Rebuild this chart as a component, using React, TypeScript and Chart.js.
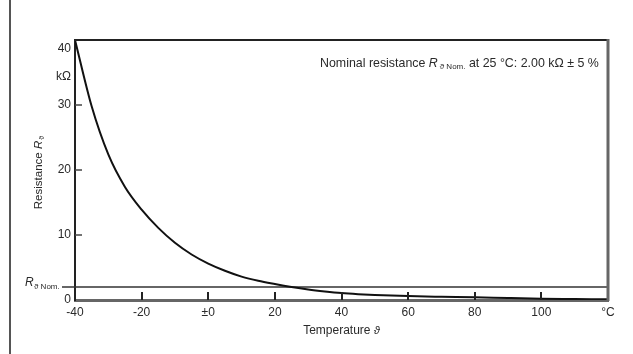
import React, { useEffect, useRef } from "react";
import { Chart, registerables } from "chart.js";

Chart.register(...registerables);

const temperatures = [-40, -35, -30, -25, -20, -15, -10, -5, 0, 5, 10, 15, 20, 25, 30, 35, 40, 45, 50, 60, 70, 80, 90, 100, 110, 120];
const resistance = [40.0, 29.8, 22.4, 17.4, 13.9, 11.1, 8.8, 7.0, 5.6, 4.5, 3.6, 2.95, 2.45, 2.0, 1.62, 1.32, 1.07, 0.9, 0.77, 0.6, 0.5, 0.42, 0.3, 0.2, 0.15, 0.1];
const nominalT = [-40, 120];
const nominalR = [2.0, 2.0];
const xTicks = [-40, -20, 0, 20, 40, 60, 80, 100, 120];
const xTickLabels = ["-40", "-20", "±0", "20", "40", "60", "80", "100", "°C"];
const yTicks = [0, 10, 20, 30, 40];

const FONT = "'Liberation Sans', Arial, sans-serif";
const TEXT = "#2a2a2a";

const decorPlugin = {
  id: "decor",
  afterDraw(chart: any) {
    const ctx = chart.ctx;
    const a = chart.chartArea;
    const xs = chart.scales.x;
    const ys = chart.scales.y;
    ctx.save();
    // page border line on left
    ctx.strokeStyle = "#555";
    ctx.lineWidth = 2;
    ctx.beginPath();
    ctx.moveTo(10, 0);
    ctx.lineTo(10, chart.height);
    ctx.stroke();
    // top border
    ctx.strokeStyle = "#222";
    ctx.lineWidth = 2;
    ctx.beginPath();
    ctx.moveTo(a.left - 1, a.top);
    ctx.lineTo(a.right + 1, a.top);
    ctx.stroke();
    // right border
    ctx.strokeStyle = "#666";
    ctx.lineWidth = 3;
    ctx.beginPath();
    ctx.moveTo(a.right, a.top - 1);
    ctx.lineTo(a.right, a.bottom + 1);
    ctx.stroke();
    // x ticks (inward)
    ctx.strokeStyle = "#222";
    ctx.lineWidth = 2;
    xTicks.slice(1, -1).forEach((v) => {
      const px = Math.round(xs.getPixelForValue(v));
      ctx.beginPath();
      ctx.moveTo(px, a.bottom);
      ctx.lineTo(px, a.bottom - 8);
      ctx.stroke();
    });
    // y ticks (inward)
    ctx.strokeStyle = "#444";
    ctx.lineWidth = 1.5;
    [10, 20, 30].forEach((v) => {
      const py = Math.round(ys.getPixelForValue(v));
      ctx.beginPath();
      ctx.moveTo(a.left, py);
      ctx.lineTo(a.left + 7, py);
      ctx.stroke();
    });
    // R nom dash left of axis
    const pyN = ys.getPixelForValue(2);
    ctx.strokeStyle = "#333";
    ctx.lineWidth = 1.5;
    ctx.beginPath();
    ctx.moveTo(62, pyN);
    ctx.lineTo(a.left, pyN);
    ctx.stroke();

    ctx.fillStyle = TEXT;
    ctx.textBaseline = "alphabetic";
    // R nom label
    ctx.textAlign = "left";
    ctx.font = `italic 12px ${FONT}`;
    ctx.fillText("R", 25, pyN - 1);
    ctx.font = `8px ${FONT}`;
    ctx.fillText("ϑ Nom.", 34, pyN + 2);
    // 40 label (drawn slightly below the top like the original)
    ctx.textAlign = "right";
    ctx.font = `12px ${FONT}`;
    ctx.fillText(String(yTicks[yTicks.length - 1]), 71, ys.getPixelForValue(40) + 12);
    // kΩ
    ctx.fillText("kΩ", 71, 80);
    // annotation
    ctx.textAlign = "left";
    let x = 320;
    const y = 67;
    const part = (t: string, f: string, dy = 0) => {
      ctx.font = f;
      ctx.fillText(t, x, y + dy);
      x += ctx.measureText(t).width;
    };
    part("Nominal resistance ", `12.4px ${FONT}`);
    part("R", `italic 12.4px ${FONT}`);
    x += 2;
    part("ϑ Nom.", `8px ${FONT}`, 2);
    part(" at 25 °C: 2.00 kΩ ± 5 %", `12.4px ${FONT}`);
    // y axis title
    ctx.save();
    ctx.translate(42, 172);
    ctx.rotate(-Math.PI / 2);
    ctx.textAlign = "left";
    const t1 = "Resistance ";
    ctx.font = `11.5px ${FONT}`;
    const w1 = ctx.measureText(t1).width;
    ctx.font = `italic 11.5px ${FONT}`;
    const w2 = ctx.measureText("R").width;
    const total = w1 + w2 + 6;
    let xx = -total / 2;
    ctx.font = `11.5px ${FONT}`;
    ctx.fillText(t1, xx, 0);
    xx += w1;
    ctx.font = `italic 11.5px ${FONT}`;
    ctx.fillText("R", xx, 0);
    xx += w2 + 1;
    ctx.font = `7px ${FONT}`;
    ctx.fillText("ϑ", xx, 2);
    ctx.restore();
    // x axis title
    ctx.textAlign = "left";
    ctx.font = `12px ${FONT}`;
    const tt = "Temperature ";
    const tw = ctx.measureText(tt).width;
    ctx.font = `italic 11px ${FONT}`;
    const tw2 = ctx.measureText("ϑ").width;
    const sx = (a.left + a.right) / 2 - (tw + tw2) / 2;
    ctx.font = `12px ${FONT}`;
    ctx.fillText(tt, sx, 334);
    ctx.font = `italic 11px ${FONT}`;
    ctx.fillText("ϑ", sx + tw, 334);
    ctx.restore();
  },
};

export default function App() {
  const ref = useRef<HTMLCanvasElement>(null);
  useEffect(() => {
    if (!ref.current) return;
    const chart = new Chart(ref.current, {
      type: "line",
      data: {
        datasets: [
          {
            data: temperatures.map((t, i) => ({ x: t, y: resistance[i] })),
            borderColor: "#111",
            borderWidth: 2,
            pointRadius: 0,
            cubicInterpolationMode: "monotone",
            fill: false,
          },
          {
            data: nominalT.map((t, i) => ({ x: t, y: nominalR[i] })),
            borderColor: "#333",
            borderWidth: 1.5,
            pointRadius: 0,
            fill: false,
          },
        ],
      },
      options: {
        responsive: false,
        animation: false,
        events: [],
        layout: { padding: { left: 0, top: 40, right: 25, bottom: 0 } },
        plugins: { legend: { display: false }, tooltip: { enabled: false } },
        scales: {
          x: {
            type: "linear",
            min: -40,
            max: 120,
            afterBuildTicks: (s: any) => {
              s.ticks = xTicks.map((v) => ({ value: v }));
            },
            afterFit: (s: any) => {
              s.height = 54;
            },
            grid: { display: true, drawOnChartArea: false, drawTicks: false },
            border: { display: true, color: "#666", width: 3 },
            ticks: {
              padding: 5,
              color: TEXT,
              font: { family: FONT, size: 12 },
              maxRotation: 0,
              autoSkip: false,
              callback: (v: any) => {
                const i = xTicks.indexOf(Number(v));
                return i >= 0 ? xTickLabels[i] : "";
              },
            },
          },
          y: {
            type: "linear",
            min: 0,
            max: 40,
            afterBuildTicks: (s: any) => {
              s.ticks = yTicks.map((v) => ({ value: v }));
            },
            afterFit: (s: any) => {
              s.width = 75;
            },
            grid: { display: true, drawOnChartArea: false, drawTicks: false },
            border: { display: true, color: "#222", width: 2 },
            ticks: {
              padding: 4,
              color: TEXT,
              font: { family: FONT, size: 12 },
              callback: (v: any) => (Number(v) === 40 ? "" : String(v)),
            },
          },
        },
      },
      plugins: [decorPlugin],
    } as any);
    return () => chart.destroy();
  }, []);
  return (
    <div style={{ position: "fixed", left: 0, top: 0, width: 633, height: 354, background: "#fff" }}>
      <canvas ref={ref} width={633} height={354} style={{ display: "block" }} />
    </div>
  );
}
